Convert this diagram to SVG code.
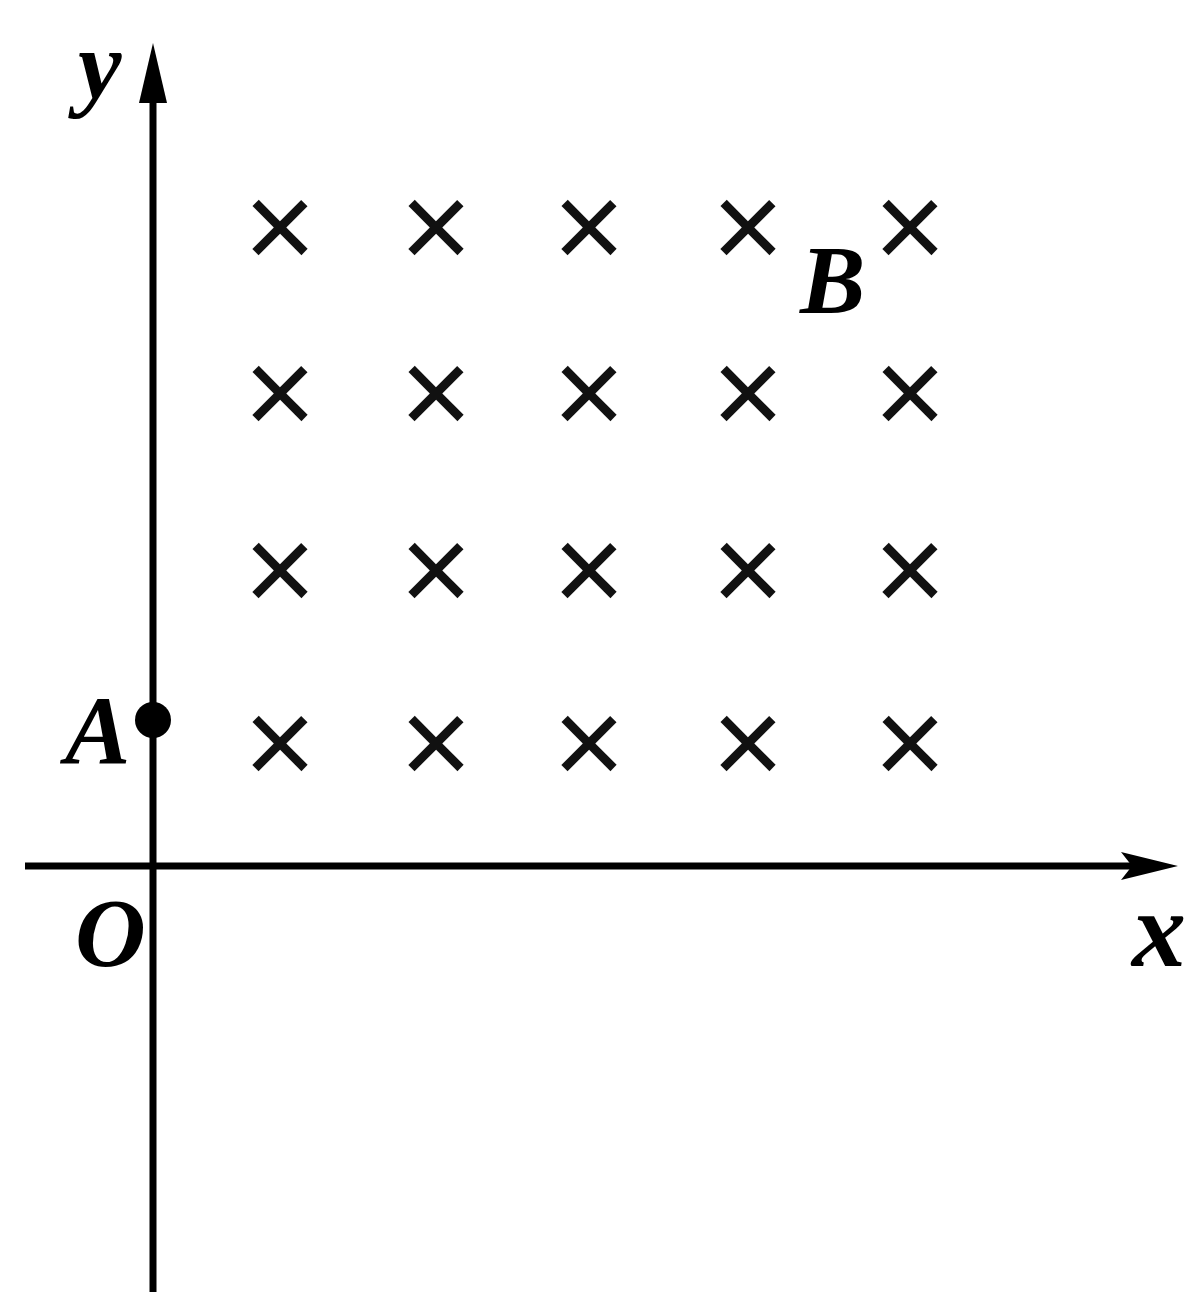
<svg xmlns="http://www.w3.org/2000/svg" width="1194" height="1299" viewBox="0 0 1194 1299">
<style>
.lbl{font-family:"Liberation Serif","Times New Roman",serif;font-style:italic;font-weight:bold;font-size:98px;fill:#000}
.cr{font-family:"Liberation Sans",Arial,sans-serif;font-size:124px;fill:#111;text-anchor:middle}
.ax{stroke:#000;stroke-width:7;fill:none}
</style>
<rect width="1194" height="1299" fill="#fff"/>
<g id="axes">
<line class="ax" x1="153" y1="95" x2="153" y2="1292"/>
<path d="M153,43 L139,103 L167,103 Z" fill="#000"/>
<line class="ax" x1="25" y1="866" x2="1140" y2="866"/>
<path d="M1178,866 L1121,852 L1132,866 L1121,880 Z" fill="#000"/>
</g>
<g id="field">
<text class="cr" x="280" y="269">×</text><text class="cr" x="436" y="269">×</text><text class="cr" x="589" y="269">×</text><text class="cr" x="748" y="269">×</text><text class="cr" x="910" y="269">×</text>
<text class="cr" x="280" y="435">×</text><text class="cr" x="436" y="435">×</text><text class="cr" x="589" y="435">×</text><text class="cr" x="748" y="435">×</text><text class="cr" x="910" y="435">×</text>
<text class="cr" x="280" y="612">×</text><text class="cr" x="436" y="612">×</text><text class="cr" x="589" y="612">×</text><text class="cr" x="748" y="612">×</text><text class="cr" x="910" y="612">×</text>
<text class="cr" x="280" y="785">×</text><text class="cr" x="436" y="785">×</text><text class="cr" x="589" y="785">×</text><text class="cr" x="748" y="785">×</text><text class="cr" x="910" y="785">×</text>
</g>
<g id="pointA">
<circle cx="153" cy="720" r="18" fill="#000"/>
<text class="lbl" x="65" y="763">A</text>
</g>
<g id="labels">
<text class="lbl" x="78" y="98">y</text>
<text class="lbl" x="75" y="966">O</text>
<text class="lbl" x="1132" y="966" style="font-size:108px">x</text>
<text class="lbl" x="800" y="313">B</text>
</g>
</svg>
